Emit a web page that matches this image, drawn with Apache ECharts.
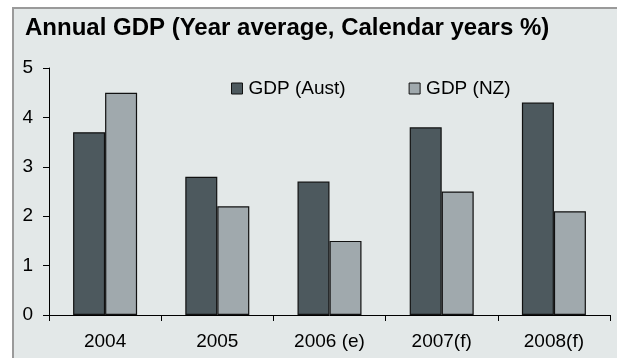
<!DOCTYPE html>
<html><head><meta charset="utf-8">
<script src="https://cdn.jsdelivr.net/npm/echarts@6/dist/echarts.min.js"></script>
<style>html,body{margin:0;padding:0;background:#fff}#c{width:617px;height:358px}</style>
</head><body><div id="c"></div>
<script>
const categories = ['2004', '2005', '2006 (e)', '2007(f)', '2008(f)'];
const gdpAust = [3.7, 2.8, 2.7, 3.8, 4.3];
const gdpNZ = [4.5, 2.2, 1.5, 2.5, 2.1];
const yTicks = [0, 1, 2, 3, 4, 5];

const chart = echarts.init(document.getElementById('c'), null, {renderer: 'canvas'});
const font = 'Liberation Sans, Arial, sans-serif';
chart.setOption({
  animation: false,
  backgroundColor: '#ffffff',
  graphic: [{
    type: 'rect', z: -10, silent: true,
    shape: {x: 13, y: 8, width: 640, height: 380},
    style: {fill: '#e3e8e8', stroke: '#9a9a9a', lineWidth: 2}
  }],
  title: {
    text: 'Annual GDP (Year average, Calendar years %)',
    left: 20, top: 11,
    textStyle: {fontFamily: font, fontSize: 24, fontWeight: 'bold', color: '#000'}
  },
  legend: {
    data: ['GDP (Aust)', 'GDP (NZ)'],
    left: 226, top: 74,
    itemWidth: 11, itemHeight: 11, itemGap: 63,
    icon: 'rect',
    textStyle: {fontFamily: font, fontSize: 19, color: '#000', padding: [0, 0, 0, 1]},
    itemStyle: {borderColor: '#111', borderWidth: 1}
  },
  grid: {left: 49, right: 7, top: 68, bottom: 43},
  xAxis: {
    type: 'category', data: categories,
    axisLine: {lineStyle: {color: '#000', width: 1}},
    axisTick: {show: true, length: 6, lineStyle: {color: '#000'}},
    axisLabel: {fontFamily: font, fontSize: 19, color: '#000', margin: 17}
  },
  yAxis: {
    type: 'value', min: 0, max: 5, interval: 1,
    axisLine: {show: true, lineStyle: {color: '#000'}},
    axisTick: {show: true, length: 6, lineStyle: {color: '#000'}},
    splitLine: {show: false},
    axisLabel: {fontFamily: font, fontSize: 19, color: '#000', margin: 16,
      formatter: v => yTicks.includes(v) ? String(v) : ''}
  },
  series: [
    {name: 'GDP (Aust)', type: 'bar', data: gdpAust, barWidth: 32, barGap: '0%',
     itemStyle: {color: '#4d595e', borderColor: '#111', borderWidth: 1.2}},
    {name: 'GDP (NZ)', type: 'bar', data: gdpNZ, barWidth: 32, barGap: '0%',
     itemStyle: {color: '#a0a9ad', borderColor: '#111', borderWidth: 1.2}}
  ]
});
</script></body></html>
